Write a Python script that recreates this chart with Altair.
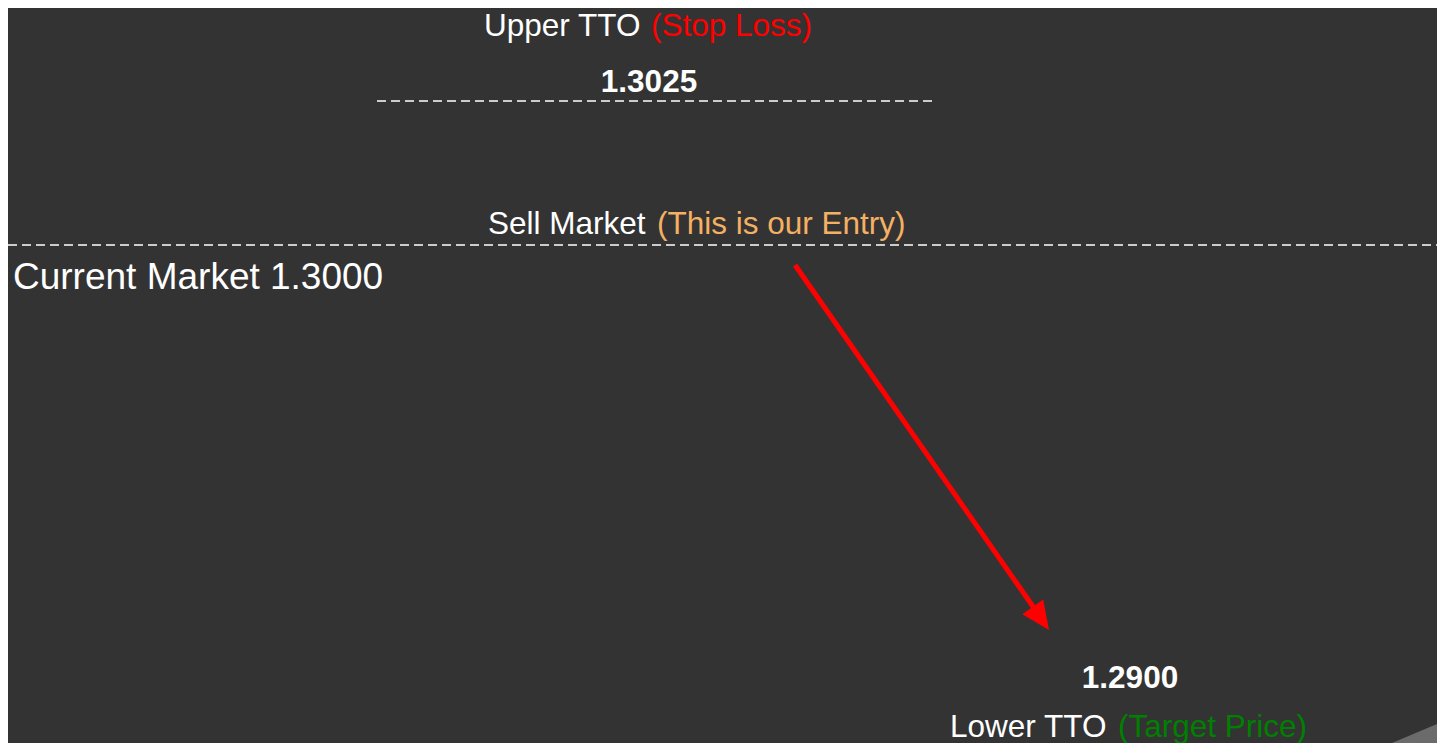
import altair as alt
import pandas as pd

# ---- content ----
text_labels = ["Upper TTO", "(Stop Loss)", "1.3025", "Sell Market", "(This is our Entry)",
               "Current Market 1.3000", "1.2900", "Lower TTO", "(Target Price)"]
text_x = [484, 651, 649, 488, 657, 13, 1130, 950, 1118]
text_y = [36, 36, 92, 234, 234, 289, 688, 737, 737]
text_align = ["left", "left", "center", "left", "left", "left", "center", "left", "left"]
text_color = ["#ffffff", "#ff0000", "#ffffff", "#ffffff", "#f4b063", "#ffffff", "#ffffff", "#ffffff", "#008000"]
text_size = [31.5, 31.5, 31.5, 31.5, 31.5, 37, 31.5, 31.5, 31.5]
text_weight = ["normal", "normal", "bold", "normal", "normal", "normal", "bold", "normal", "normal"]

# dashed price levels
level_names = ["Upper TTO 1.3025", "Current Market 1.3000"]
level_x1 = [377, 8]
level_x2 = [932, 1437]
level_y = [101, 245]

# arrow (shaft and head tip)
arrow_x1, arrow_y1 = [795], [265]
arrow_x2, arrow_y2 = [1034], [608]
head_x, head_y = [1049], [630]

# corner decoration
deco_x = [1392, 1437]
deco_y = [743, 724]

X = alt.Scale(domain=[8, 1437])
Y = alt.Scale(domain=[8, 743], reverse=True)
noax = None

texts = pd.DataFrame({"label": text_labels, "x": text_x, "y": text_y, "align": text_align,
                      "color": text_color, "size": text_size, "weight": text_weight})
levels = pd.DataFrame({"name": level_names, "x": level_x1, "x2": level_x2, "y": level_y})
arrow = pd.DataFrame({"x": arrow_x1, "y": arrow_y1, "x2": arrow_x2, "y2": arrow_y2})
head = pd.DataFrame({"x": head_x, "y": head_y})
deco = pd.DataFrame({"x": deco_x, "y": deco_y})

layers = []

deco_layer = alt.Chart(deco).mark_area(color="#6b6b6b", opacity=1).encode(
    x=alt.X("x:Q", scale=X, axis=noax),
    y=alt.Y("y:Q", scale=Y, axis=noax),
    y2=alt.Y2(datum=743),
)
layers.append(deco_layer)

level_layer = alt.Chart(levels).mark_rule(color="#ffffff", strokeWidth=1.7, strokeDash=[9, 5]).encode(
    x=alt.X("x:Q", scale=X, axis=noax),
    x2="x2:Q",
    y=alt.Y("y:Q", scale=Y, axis=noax),
)
layers.append(level_layer)

shaft = alt.Chart(arrow).mark_rule(color="#ff0000", strokeWidth=5).encode(
    x=alt.X("x:Q", scale=X, axis=noax),
    y=alt.Y("y:Q", scale=Y, axis=noax),
    x2="x2:Q",
    y2="y2:Q",
)
layers.append(shaft)

head_layer = alt.Chart(head).mark_point(
    shape="M0,0L-0.9,2L0.9,2Z", filled=True, color="#ff0000", opacity=1,
    size=800, angle=145, strokeWidth=0,
).encode(
    x=alt.X("x:Q", scale=X, axis=noax),
    y=alt.Y("y:Q", scale=Y, axis=noax),
)
layers.append(head_layer)

for i in range(len(text_labels)):
    sub = texts.iloc[[i]]
    t = alt.Chart(sub).mark_text(
        align=text_align[i], baseline="alphabetic", font="Liberation Sans",
        fontSize=text_size[i], fontWeight=text_weight[i], color=text_color[i],
    ).encode(
        x=alt.X("x:Q", scale=X, axis=noax),
        y=alt.Y("y:Q", scale=Y, axis=noax),
        text="label:N",
    )
    layers.append(t)

chart = alt.layer(*layers).properties(
    width=1429, height=735,
    background="#333333",
    padding=0,
    autosize=alt.AutoSizeParams(type="none"),
).configure_view(stroke=None)

chart.save("out.html", embed_options={"renderer": "svg", "actions": False})
